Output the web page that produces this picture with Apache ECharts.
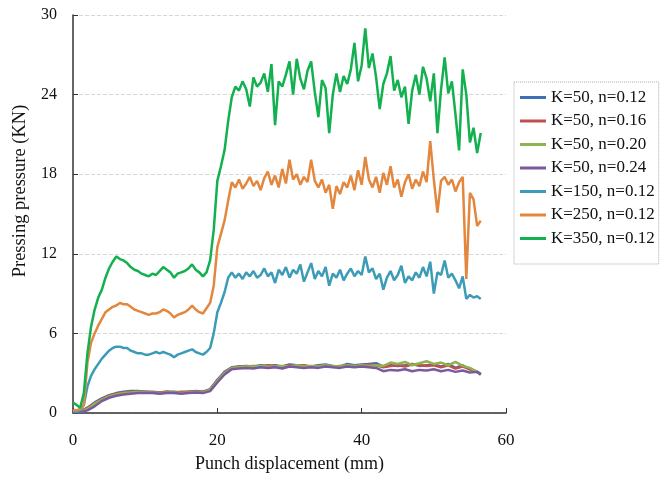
<!DOCTYPE html>
<html>
<head>
<meta charset="utf-8">
<script src="https://cdn.jsdelivr.net/npm/echarts@6/dist/echarts.min.js"></script>
<style>
  html, body { margin: 0; padding: 0; background: #fff; }
  #chart { width: 662px; height: 478px; }
</style>
</head>
<body>
<div id="chart"></div>
<script>
// 图例名称
var seriesNames = ['K=50, n=0.12', 'K=50, n=0.16', 'K=50, n=0.20', 'K=50, n=0.24',
                   'K=150, n=0.12', 'K=250, n=0.12', 'K=350, n=0.12'];
var seriesColors = ['#3f6fb5', '#c0504d', '#8fb34f', '#7a5a9e', '#3c9bb6', '#e3873e', '#12b04f'];

// 位移采样点 (mm)
var dispFine = [];     // 0 ~ 56.5, 步长 0.5
for (var i = 0; i <= 113; i++) { dispFine.push(i * 0.5); }
var dispCoarse = [];   // 0 ~ 56, 步长 1, 末点 56.5
for (var j = 0; j <= 56; j++) { dispCoarse.push(j); }
dispCoarse.push(56.5);

// K=50 四条曲线 (对应 dispCoarse)
var k50n012 = [0.1,0.1,0.4,0.8,1.1,1.35,1.5,1.6,1.65,1.65,1.6,1.6,1.55,1.6,1.6,1.55,1.6,1.65,1.6,1.8,
  2.5,3.1,3.45,3.5,3.55,3.5,3.6,3.55,3.6,3.5,3.65,3.6,3.55,3.5,3.6,3.65,3.55,3.5,3.7,3.6,
  3.65,3.7,3.75,3.5,3.6,3.55,3.6,3.7,3.55,3.6,3.65,3.5,3.7,3.4,3.6,3.3,3.1,2.9];
var k50n016 = [0.1,0.1,0.35,0.75,1.05,1.3,1.45,1.55,1.6,1.6,1.6,1.55,1.55,1.6,1.55,1.6,1.6,1.6,1.6,1.75,
  2.45,3.05,3.4,3.5,3.5,3.55,3.5,3.6,3.55,3.5,3.6,3.55,3.6,3.5,3.55,3.6,3.5,3.55,3.6,3.55,
  3.6,3.65,3.6,3.45,3.55,3.6,3.5,3.65,3.6,3.55,3.6,3.45,3.6,3.35,3.5,3.3,3.1,2.95];
var k50n020 = [0.1,0.1,0.3,0.7,1.0,1.25,1.4,1.5,1.55,1.6,1.55,1.55,1.5,1.55,1.55,1.5,1.55,1.6,1.55,1.75,
  2.4,3.0,3.4,3.45,3.5,3.5,3.55,3.5,3.5,3.55,3.5,3.6,3.5,3.55,3.5,3.6,3.55,3.5,3.6,3.55,
  3.6,3.55,3.6,3.55,3.8,3.7,3.85,3.6,3.75,3.9,3.7,3.8,3.6,3.85,3.55,3.4,3.1,2.9];
var k50n024 = [0.05,0.05,0.2,0.5,0.9,1.15,1.3,1.4,1.45,1.5,1.5,1.5,1.45,1.5,1.5,1.45,1.5,1.55,1.5,1.65,
  2.3,2.9,3.3,3.35,3.4,3.35,3.45,3.4,3.45,3.35,3.5,3.45,3.4,3.45,3.4,3.5,3.45,3.4,3.5,3.45,
  3.5,3.45,3.4,3.15,3.25,3.2,3.3,3.15,3.25,3.2,3.3,3.15,3.25,3.1,3.2,3.05,3.1,2.9];

// K=150, 250, 350 (对应 dispFine)
var k150 = [0.1,0.1,0.2,0.6,2.0,2.8,3.3,3.7,4.1,4.4,4.7,4.9,5.0,5.0,4.9,4.9,4.7,4.6,4.5,4.5,
  4.4,4.4,4.5,4.6,4.5,4.6,4.5,4.4,4.2,4.4,4.5,4.6,4.7,4.8,4.6,4.5,4.4,4.6,4.9,6.0,
  7.6,8.3,9.1,10.2,10.6,10.2,10.5,10.1,10.6,10.3,10.7,10.2,10.4,10.9,10.3,10.6,9.8,10.8,10.4,11.0,
  10.2,10.8,10.5,11.2,9.9,10.6,11.3,10.1,10.7,10.3,11.0,9.6,10.5,10.2,10.8,10.0,10.5,10.9,10.3,10.7,
  10.4,11.8,10.6,10.9,10.1,10.5,9.3,10.2,10.7,10.0,10.4,11.1,9.8,10.3,10.0,10.6,10.2,11.0,10.3,11.4,
  9.0,10.6,10.4,11.5,10.2,10.5,10.0,9.4,10.3,8.6,8.9,8.7,8.8,8.6];
var k250 = [0.2,0.2,0.3,0.6,3.8,5.3,6.0,6.6,7.1,7.6,7.8,8.0,8.1,8.3,8.2,8.2,8.0,7.8,7.7,7.6,
  7.5,7.4,7.5,7.5,7.6,7.8,7.7,7.5,7.2,7.4,7.5,7.6,7.8,8.1,7.8,7.6,7.5,7.9,8.3,9.6,
  12.5,13.5,14.5,16.0,17.4,17.0,17.6,16.9,17.3,17.8,17.1,17.5,16.8,17.7,18.2,17.2,17.9,17.0,18.4,17.3,
  19.1,17.6,18.0,17.2,17.8,17.4,19.1,17.5,17.0,17.6,16.6,17.2,15.4,17.1,16.5,17.4,17.0,17.9,16.8,18.3,
  17.2,19.3,17.6,17.0,17.8,16.6,18.1,17.2,18.6,17.0,17.6,16.3,17.4,18.0,16.9,17.6,17.1,18.2,17.4,20.5,
  17.6,15.1,17.5,17.8,17.2,17.6,16.7,17.4,17.8,10.1,16.6,16.1,14.1,14.5];
var k350 = [0.8,0.6,0.4,1.5,4.5,6.5,7.8,8.7,9.3,10.2,10.9,11.4,11.8,11.6,11.5,11.3,11.0,10.8,10.7,10.5,
  10.4,10.3,10.5,10.4,10.7,11.0,10.8,10.6,10.2,10.5,10.6,10.7,10.9,11.2,10.8,10.6,10.3,10.6,11.5,13.8,
  17.5,18.6,19.8,22.0,23.8,24.6,24.3,25.0,24.4,23.1,25.3,24.6,24.9,25.6,24.2,26.3,21.7,25.0,24.6,25.5,
  26.5,24.0,26.7,25.2,24.4,25.8,26.5,24.2,22.3,25.1,24.5,21.1,24.0,25.6,24.2,25.4,24.8,25.9,27.9,25.0,
  26.2,29.0,26.0,27.1,25.3,22.9,24.8,25.6,26.9,24.3,25.1,23.8,24.6,21.8,24.3,25.5,24.0,26.1,25.2,23.5,
  25.6,21.1,24.4,26.8,24.1,25.0,22.5,19.8,25.9,24.0,20.4,21.5,19.6,21.1];

// 坐标轴刻度
var xTicks = [0, 20, 40, 60];
var yTicks = [0, 6, 12, 18, 24, 30];

function pairs(xs, ys) {
    return ys.map(function (y, k) { return [xs[k], y]; });
}

var seriesData = [
    pairs(dispCoarse, k50n012),
    pairs(dispCoarse, k50n016),
    pairs(dispCoarse, k50n020),
    pairs(dispCoarse, k50n024),
    pairs(dispFine, k150),
    pairs(dispFine, k250),
    pairs(dispFine, k350)
];

var chart = echarts.init(document.getElementById('chart'));
var serifFont = '"Liberation Serif", "DejaVu Serif", serif';

var option = {
    animation: false,
    backgroundColor: '#fff',
    color: seriesColors,
    legend: {
        orient: 'vertical',
        left: 514,
        top: 82,
        padding: [7, 4, 17, 6],
        itemGap: 6.5,
        itemWidth: 26,
        itemHeight: 3,
        icon: 'rect',
        borderColor: '#aaa',
        borderWidth: 1,
        borderType: 'dotted',
        textStyle: { fontFamily: serifFont, fontSize: 17, color: '#111', lineHeight: 17 },
        data: seriesNames
    },
    grid: {
        left: 73,
        right: 156,
        top: 15,
        bottom: 63
    },
    xAxis: {
        type: 'value',
        min: xTicks[0],
        max: xTicks[xTicks.length - 1],
        interval: 20,
        name: 'Punch displacement (mm)',
        nameLocation: 'middle',
        nameGap: 42,
        nameTextStyle: { fontFamily: serifFont, fontSize: 18, color: '#111' },
        axisLine: { lineStyle: { color: '#333', width: 1.5 } },
        axisTick: { inside: true, length: 5, lineStyle: { color: '#333' } },
        axisLabel: { fontFamily: serifFont, fontSize: 17, color: '#111', margin: 19 },
        splitLine: { show: false }
    },
    yAxis: {
        type: 'value',
        min: yTicks[0],
        max: yTicks[yTicks.length - 1],
        interval: 6,
        name: 'Pressing pressure (KN)',
        nameLocation: 'middle',
        nameGap: 42,
        nameTextStyle: { fontFamily: serifFont, fontSize: 18.5, color: '#111', padding: [0, 0, 0, 46] },
        axisLine: { show: true, lineStyle: { color: '#333', width: 1.5 } },
        axisTick: { show: true, inside: true, length: 5, lineStyle: { color: '#333' } },
        axisLabel: { fontFamily: serifFont, fontSize: 16, color: '#111', margin: 16 },
        splitLine: { show: true, lineStyle: { color: '#d8d8d8', type: 'dashed', width: 1 } }
    },
    series: seriesNames.map(function (name, k) {
        return {
            name: name,
            type: 'line',
            symbol: 'none',
            lineStyle: { width: 2.5 },
            data: seriesData[k]
        };
    })
};

chart.setOption(option);
</script>
</body>
</html>
